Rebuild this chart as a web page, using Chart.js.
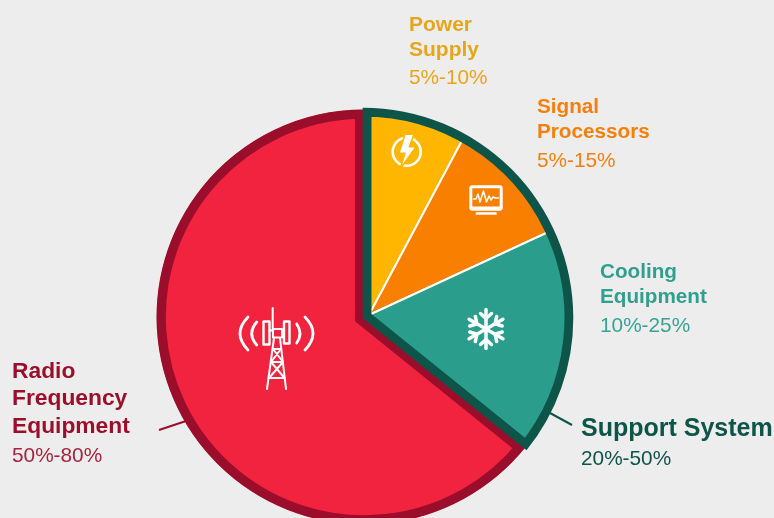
<!DOCTYPE html>
<html>
<head>
<meta charset="utf-8">
<script src="https://cdn.jsdelivr.net/npm/chart.js@4"></script>
<style>
  html, body { margin: 0; padding: 0; width: 774px; height: 518px; overflow: hidden; background: #ededed; }
  canvas { position: absolute; }
  svg { position: absolute; left: 0; top: 0; }
  .txt { position: absolute; white-space: nowrap; line-height: 1; font-family: "Liberation Sans", Arial, sans-serif; }
  .name { font-weight: bold; }
</style>
</head>
<body>
<canvas id="redLayer" width="460" height="460"></canvas>
<canvas id="sliceLayer" width="460" height="460"></canvas>
<canvas id="frameLayer" width="460" height="460"></canvas>

<svg width="774" height="518" fill="none" stroke="#fff" stroke-linecap="round" stroke-linejoin="round">
  <!-- leader lines -->
  <line x1="159" y1="430" x2="186" y2="421" stroke="#9a0f2b" stroke-width="2" stroke-linecap="butt"/>
  <line x1="550" y1="413" x2="572" y2="425" stroke="#0d5449" stroke-width="2" stroke-linecap="butt"/>

  <!-- power -->
  <circle cx="406.7" cy="151.7" r="14" stroke-width="2.6"/>
  <path d="M405 134.300l9 0-4.700 12.400 6.700 0-16 22.600 5-16-6 0z" fill="#fff" stroke="#ffb600" stroke-width="1.500"/>

  <!-- monitor -->
  <rect x="470.8" y="186.8" width="30.4" height="22.400" rx="1.500" stroke-width="3"/>
  <line x1="471" y1="208" x2="501" y2="208" stroke-width="3"/>
  <line x1="475.700" y1="213.500" x2="496.700" y2="213.500" stroke-width="2.500" stroke-linecap="butt"/>
  <path d="M473.500 199l2.500 0 2-5 2 8 3.500-11 3 11 2.500-6 2 4 2-3 2.500 1 3 0" stroke-width="1.500"/>

  <!-- snowflake -->
  <g stroke-width="3.500" id="flake">
    <g><line x1="486" y1="329" x2="486" y2="309.500"/><path d="M480.500 313.500l5.500 5 5.500-5"/></g>
    <g transform="rotate(60 486 329)"><line x1="486" y1="329" x2="486" y2="309.500"/><path d="M480.500 313.500l5.500 5 5.500-5"/></g>
    <g transform="rotate(120 486 329)"><line x1="486" y1="329" x2="486" y2="309.500"/><path d="M480.500 313.500l5.500 5 5.500-5"/></g>
    <g transform="rotate(180 486 329)"><line x1="486" y1="329" x2="486" y2="309.500"/><path d="M480.500 313.500l5.500 5 5.500-5"/></g>
    <g transform="rotate(240 486 329)"><line x1="486" y1="329" x2="486" y2="309.500"/><path d="M480.500 313.500l5.500 5 5.500-5"/></g>
    <g transform="rotate(300 486 329)"><line x1="486" y1="329" x2="486" y2="309.500"/><path d="M480.500 313.500l5.500 5 5.500-5"/></g>
  </g>

  <!-- tower -->
  <g stroke-width="2">
    <line x1="272.700" y1="308" x2="272.700" y2="330"/>
    <rect x="263.500" y="321.500" width="6" height="23" stroke-width="2.400"/>
    <rect x="284" y="321.500" width="5.500" height="22" stroke-width="2.400"/>
    <rect x="273" y="329" width="9" height="8.500"/>
    <line x1="269.500" y1="330" x2="273" y2="331"/>
    <line x1="284" y1="331" x2="282" y2="332"/>
    <path d="M274 338l-7 51M280 338l6 51"/>
    <path d="M273 349l8 0M273 349l10 13M281 349l-10 13M271 362l12 0M271 362l13.500 16M283 362l-14 16M268.500 378l16 0"/>
    <g stroke-width="2.800">
      <path d="M248 317Q232 333.500 248 350"/>
      <path d="M256.700 322Q246.700 333.500 256.700 345"/>
      <path d="M305 317Q321 333.500 305 350"/>
      <path d="M296.700 324Q303.300 333.500 296.700 343"/>
    </g>
  </g>
</svg>

<script>
// values, percent of the circle
var redValue = [64.2];
var greenValues = [7.8, 10.3, 17.7];

var nameLines = [
  ['Power', 'Supply'],
  ['Signal', 'Processors'],
  ['Cooling', 'Equipment'],
  ['Support System'],
  ['Radio', 'Frequency', 'Equipment']
];
var rangeLabels = ['5%-10%', '5%-15%', '10%-25%', '20%-50%', '50%-80%'];
var textColors = ['#e6a61a', '#f57f0a', '#2f9f8e', '#0d5449', '#9a0f2b'];
var rangeColors = ['#e6a61a', '#f57f0a', '#36a394', '#0d5449', '#a5233f'];

var red = '#f1233f', darkRed = '#9a0e2b';
var yellow = '#ffb600', orange = '#f97f00', teal = '#2a9d8c', darkTeal = '#0d5449';
var clear = 'rgba(0,0,0,0)';

var greenTotal = greenValues.reduce(function (a, b) { return a + b; }, 0);

function place(id, cx, cy) {
  var c = document.getElementById(id);
  c.style.left = (cx - 230) + 'px';
  c.style.top = (cy - 230) + 'px';
  return c;
}

function layer(id, cx, cy, radius, values, fills, borders, borderWidth, align) {
  return new Chart(place(id, cx, cy).getContext('2d'), {
    type: 'pie',
    data: {
      datasets: [{
        data: values,
        backgroundColor: fills,
        borderColor: borders,
        borderWidth: borderWidth,
        borderAlign: align,
        borderJoinStyle: 'miter'
      }]
    },
    options: {
      responsive: false,
      animation: false,
      radius: radius,
      plugins: { legend: { display: false }, tooltip: { enabled: false } }
    }
  });
}

layer('redLayer', 363.5, 316.5, 207.5,
  [greenTotal, redValue[0]], [clear, red], [clear, darkRed], 9, 'inner');

// white separators sit under the frame so only the two inner ones show
layer('sliceLayer', 368.5, 314.5, 200,
  greenValues.concat(redValue), [yellow, orange, teal, clear], ['#fff', '#fff', '#fff', clear], 2, 'center');

layer('frameLayer', 362.7, 318.3, 210.3,
  [greenTotal, redValue[0]], [clear, clear], [darkTeal, clear], 8.5, 'inner');

// label blocks: left edge, title size, title baselines, range baseline
var labelLayout = [
  { x: 409, size: 21, lines: [31, 56], range: 85 },
  { x: 537, size: 20.7, lines: [114, 139], range: 168 },
  { x: 600, size: 20.7, lines: [279, 304], range: 333 },
  { x: 581, size: 25, lines: [436], range: 466 },
  { x: 12, size: 22.8, lines: [378.5, 405, 433.5], range: 463 }
];

function addText(str, x, baseline, size, color, cls) {
  var d = document.createElement('div');
  d.className = 'txt ' + cls;
  d.textContent = str;
  d.style.left = x + 'px';
  d.style.top = (baseline - 0.8465 * size) + 'px';
  d.style.fontSize = size + 'px';
  d.style.color = color;
  document.body.appendChild(d);
}

labelLayout.forEach(function (l, i) {
  nameLines[i].forEach(function (s, j) {
    addText(s, l.x, l.lines[j], l.size, textColors[i], 'name');
  });
  addText(rangeLabels[i], l.x, l.range, 20.8, rangeColors[i], '');
});
</script>
</body>
</html>
